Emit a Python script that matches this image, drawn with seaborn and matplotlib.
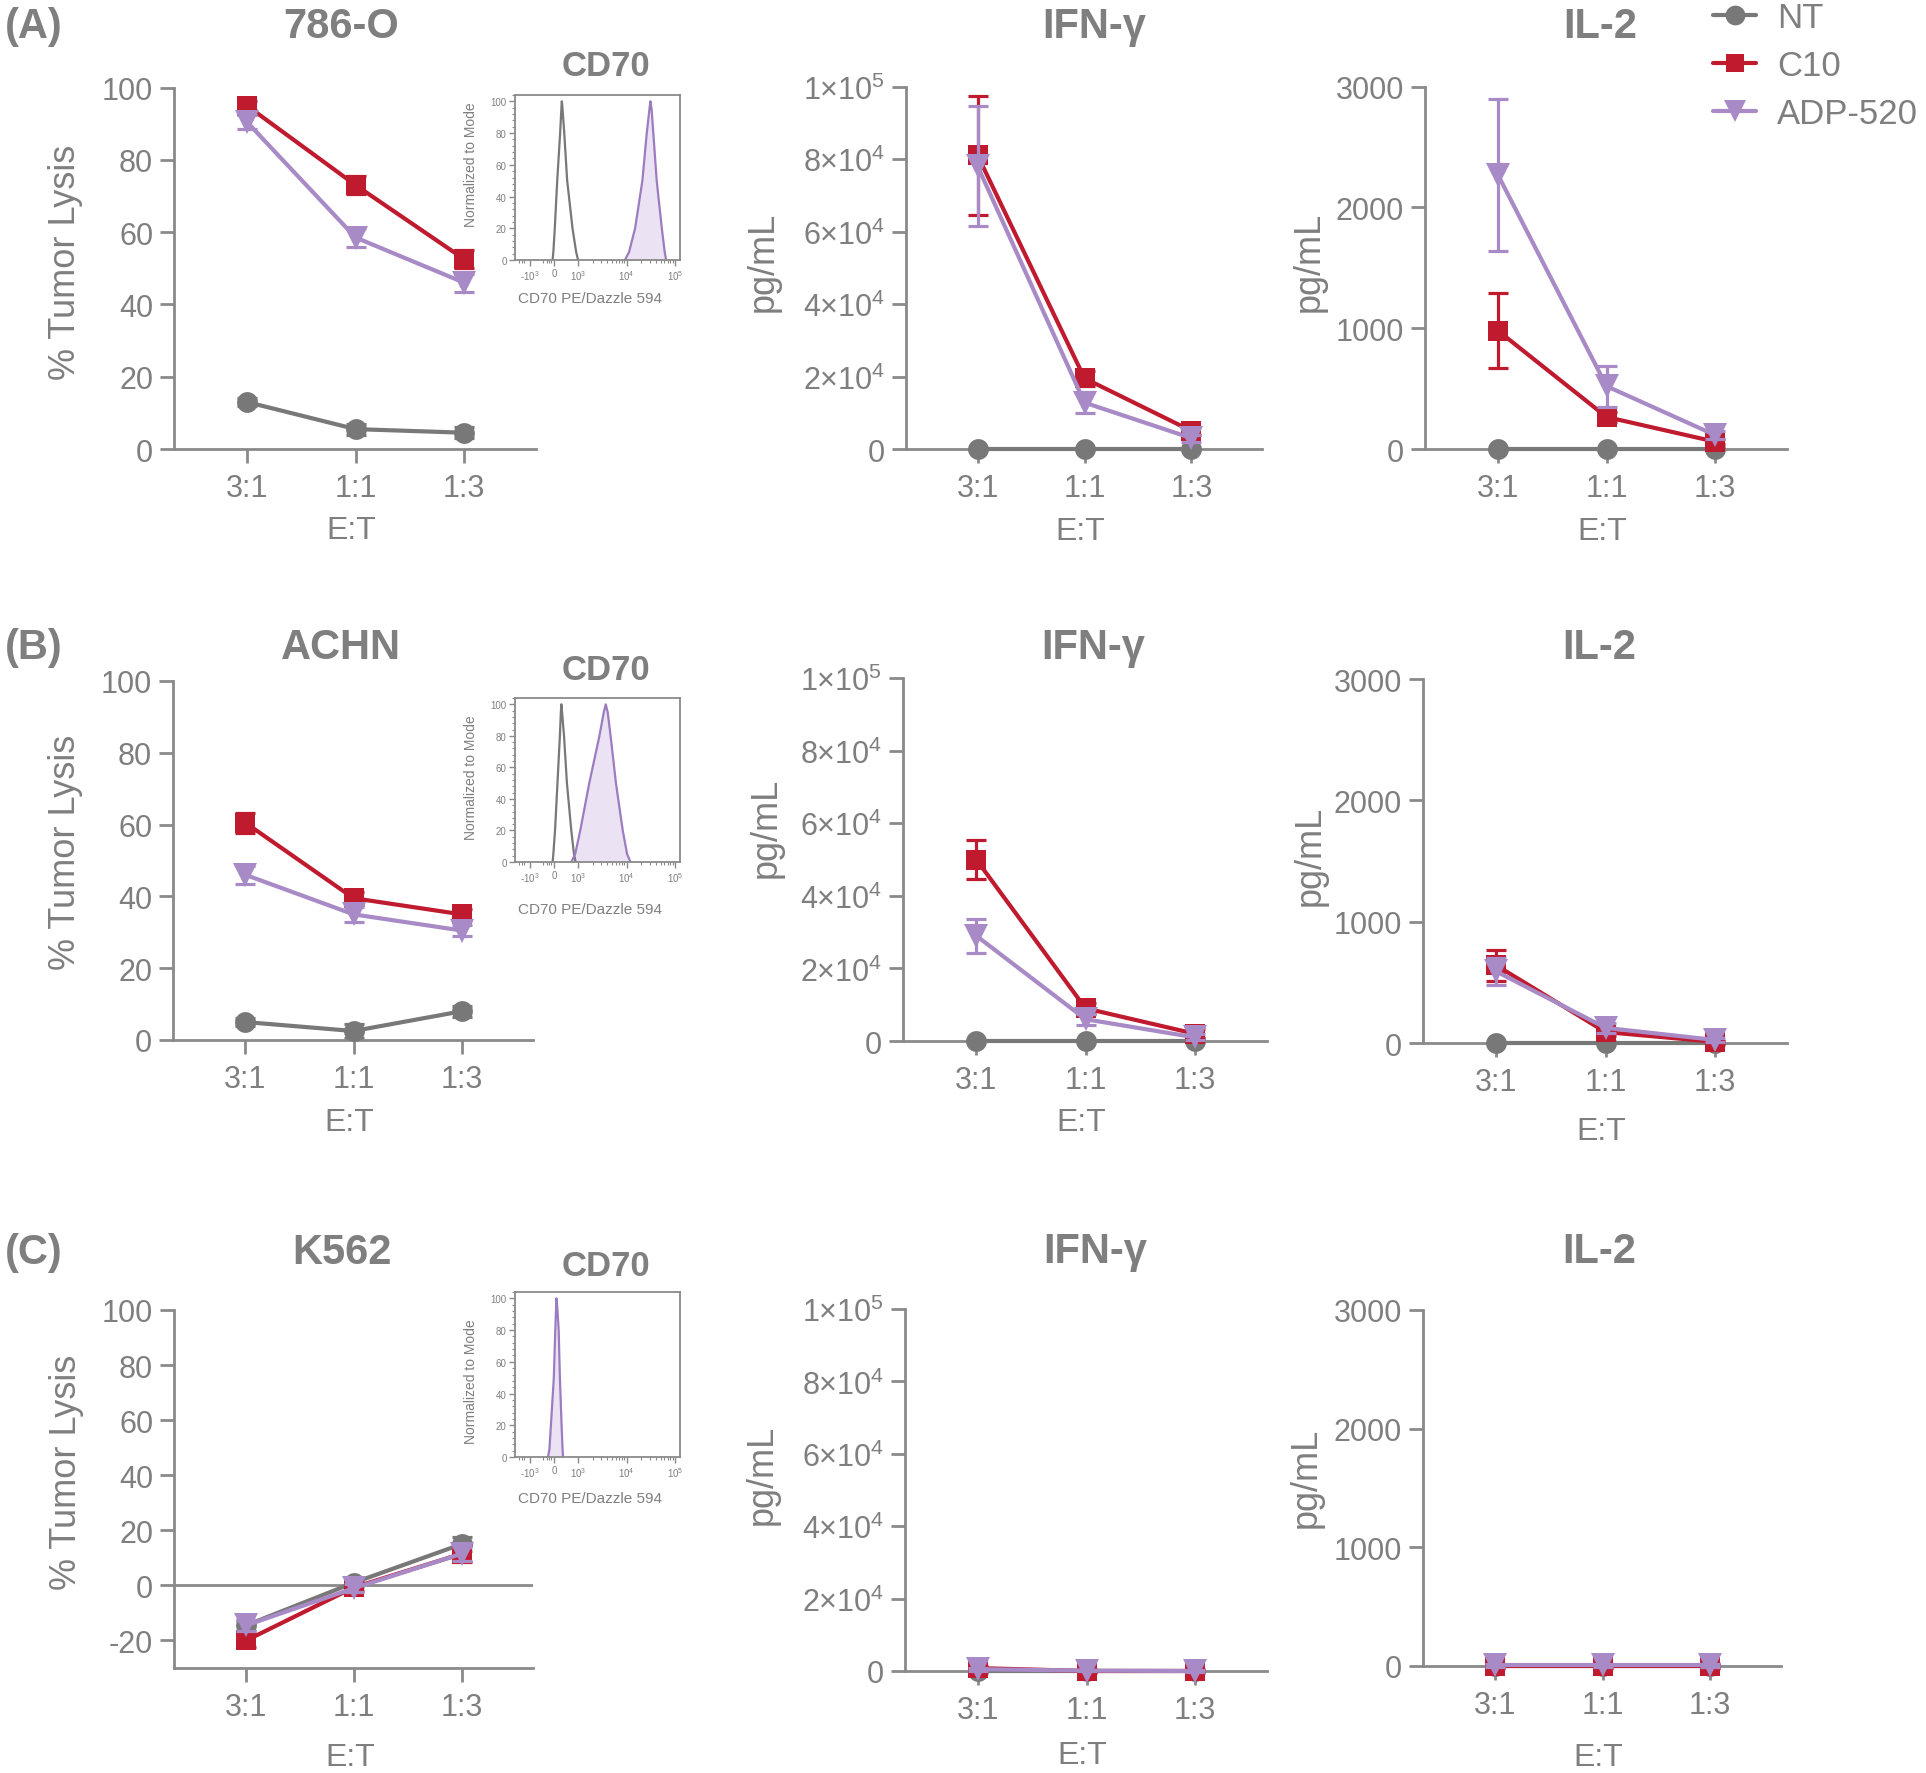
import numpy as np
import pandas as pd
import matplotlib
matplotlib.use("Agg")
import matplotlib.pyplot as plt
import seaborn as sns
from matplotlib.lines import Line2D
from matplotlib.ticker import MultipleLocator

# ======================
# Data
# ======================
E_T = ["3:1", "1:1", "1:3"]
GROUPS = ["NT", "C10", "ADP-520"]

# rows: NT, C10, ADP-520 ; columns: 3:1, 1:1, 1:3
LYSIS_786O = [[13, 5.5, 4.5], [95, 73, 52.5], [90.5, 58.5, 46]]
LYSIS_786O_SD = [[1, 1.5, 1.5], [1.2, 2.5, 2.5], [2, 2.5, 2.5]]
IFNG_786O = [[0, 0, 0], [81000, 19500, 5000], [78000, 12800, 3000]]
IFNG_786O_SD = [[0, 0, 0], [16500, 2000, 1000], [16600, 3000, 1000]]
IL2_786O = [[0, 0, 0], [980, 265, 60], [2270, 520, 115]]
IL2_786O_SD = [[0, 0, 0], [310, 45, 20], [630, 170, 30]]

LYSIS_ACHN = [[5, 2.5, 8], [60.5, 39.5, 35], [46, 35, 30.5]]
LYSIS_ACHN_SD = [[1, 2, 1.5], [2.8, 1.8, 1.5], [2.5, 2, 1.5]]
IFNG_ACHN = [[0, 0, 0], [50000, 9000, 2000], [29000, 6000, 1000]]
IFNG_ACHN_SD = [[0, 0, 0], [5300, 1500, 1200], [4700, 1500, 800]]
IL2_ACHN = [[0, 0, 0], [640, 90, 10], [590, 125, 25]]
IL2_ACHN_SD = [[0, 0, 0], [125, 30, 10], [110, 40, 15]]

LYSIS_K562 = [[-14.5, 1, 15], [-20, -0.7, 11.5], [-14.5, -1, 11.5]]
LYSIS_K562_SD = [[2, 1.5, 2.5], [2.5, 1.5, 3], [2, 1.5, 2.5]]
IFNG_K562 = [[0, 0, 0], [800, 0, 0], [500, 100, 0]]
IFNG_K562_SD = [[0, 0, 0], [700, 300, 300], [400, 200, 200]]
IL2_K562 = [[0, 0, 0], [0, 0, 0], [5, 5, 5]]
IL2_K562_SD = [[0, 0, 0], [20, 20, 20], [15, 15, 15]]

# CD70 flow histograms (x in display decades: 0 -> 0, 1 -> 10^3, 3 -> 10^4, 5 -> 10^5)
HIST_Y = [0, 5, 20, 50, 80, 95, 100, 95, 80, 50, 20, 5, 0]
HIST_786O_CTRL_X = [-0.05, -0.02, 0.04, 0.14, 0.26, 0.31, 0.33, 0.36, 0.43, 0.55, 0.77, 0.92, 1.0]
HIST_786O_CD70_X = [2.93, 3.10, 3.35, 3.65, 3.83, 3.94, 3.98, 4.03, 4.10, 4.24, 4.45, 4.57, 4.63]
HIST_ACHN_CTRL_X = [-0.05, -0.02, 0.05, 0.15, 0.25, 0.29, 0.31, 0.34, 0.42, 0.54, 0.72, 0.83, 0.9]
HIST_ACHN_CD70_X = [0.72, 0.88, 1.09, 1.46, 1.88, 2.06, 2.14, 2.22, 2.34, 2.56, 2.84, 3.02, 3.16]
HIST_K562_CD70_X = [-0.24, -0.18, -0.12, 0.0, 0.06, 0.095, 0.11, 0.14, 0.20, 0.25, 0.32, 0.36, 0.38]
HIST_XTICKS = [-1, 0, 1, 3, 5]
HIST_XTICKLABELS = ["-10$^{3}$", "0", "10$^{3}$", "10$^{4}$", "10$^{5}$"]

# ======================
# Style
# ======================
W, H = 1926, 1774
TEXT = "#7f7f7f"
SPINE = "#8a8a8a"
GREY = "#787878"
RED = "#c01a2f"
PURPLE = "#a88ac7"
PURPLE_LINE = "#9c7cc0"
PURPLE_FILL = "#ebe3f3"

STYLE = {
    "NT": dict(color=GREY, marker="o", ms=15, z=3),
    "C10": dict(color=RED, marker="s", ms=14, z=4),
    "ADP-520": dict(color=PURPLE, marker="v", ms=17, z=5),
}

sns.set_theme(style="ticks")
plt.rcParams["font.family"] = ["Liberation Sans", "DejaVu Sans"]
plt.rcParams["axes.unicode_minus"] = False
plt.rcParams["mathtext.fontset"] = "custom"
plt.rcParams["mathtext.rm"] = "Liberation Sans"
plt.rcParams["mathtext.it"] = "Liberation Sans:italic"
plt.rcParams["mathtext.bf"] = "Liberation Sans:bold"

fig = plt.figure(figsize=(W / 100, H / 100), dpi=100)
fig.patch.set_facecolor("white")


def px_axes(left, right, top, bottom):
    return fig.add_axes([left / W, 1 - bottom / H, (right - left) / W, (bottom - top) / H])


def ftext(x, y, s, **kw):
    kw.setdefault("color", TEXT)
    return fig.text(x / W, 1 - y / H, s, **kw)


def long_df(means, sds):
    rows = []
    for g, m_row, s_row in zip(GROUPS, means, sds):
        for i, (m, s) in enumerate(zip(m_row, s_row)):
            rows.append({"group": g, "ratio": E_T[i], "pos": i, "value": m, "sd": s})
    return pd.DataFrame(rows)


def draw_panel(box, means, sds, kind, ylab_xy, xlab_y):
    ax = px_axes(*box)
    df = long_df(means, sds)
    for g in GROUPS:
        st = STYLE[g]
        sub = df[df["group"] == g]
        ax.errorbar(sub["pos"], sub["value"], yerr=sub["sd"], fmt="none",
                    ecolor=st["color"], elinewidth=2.3, capsize=7, capthick=2.3,
                    zorder=st["z"] - 0.5, clip_on=False)
        sns.lineplot(data=sub, x="pos", y="value", color=st["color"],
                     marker=st["marker"], markersize=st["ms"], markeredgewidth=0,
                     linewidth=3, errorbar=None, legend=False, ax=ax, zorder=st["z"])
    for line in ax.lines:
        line.set_clip_on(False)

    ax.set_xlim(-0.67, 2.66)
    if kind == "lysis":
        ax.set_ylim(0, 100)
        ax.set_yticks(range(0, 101, 20))
        ylabel = "% Tumor Lysis"
    elif kind == "lysis_neg":
        ax.set_ylim(-30, 100)
        ax.set_yticks(range(-20, 101, 20))
        ax.axhline(0, color=SPINE, lw=2, zorder=1)
        ylabel = "% Tumor Lysis"
    elif kind == "ifng":
        ax.set_ylim(0, 100000)
        ax.set_yticks(range(0, 100001, 20000),
                      ["0", "2×10$^{4}$", "4×10$^{4}$", "6×10$^{4}$", "8×10$^{4}$", "1×10$^{5}$"])
        ylabel = "pg/mL"
    else:
        ax.set_ylim(0, 3000)
        ax.set_yticks(range(0, 3001, 1000))
        ylabel = "pg/mL"

    ax.set_xticks([0, 1, 2], E_T)
    for s in ["top", "right"]:
        ax.spines[s].set_visible(False)
    for s in ["left", "bottom"]:
        ax.spines[s].set_color(SPINE)
        ax.spines[s].set_linewidth(2)
    ax.tick_params(axis="both", color=SPINE, labelcolor=TEXT, width=2, length=10,
                   labelsize=22)
    ax.tick_params(axis="y", pad=5)
    ax.tick_params(axis="x", pad=7)
    ax.set_facecolor("none")

    ax.set_xlabel("E:T", fontsize=23, color=TEXT)
    ax.xaxis.set_label_coords(0.49, xlab_y)
    ax.xaxis.label.set_va("center")
    ax.set_ylabel(ylabel, fontsize=26, color=TEXT)
    ax.yaxis.set_label_coords(*ylab_xy)
    ax.yaxis.label.set_va("center")
    return ax


def draw_inset(box, ctrl_x, cd70_x, title_y, norm_y, label_y):
    ax = px_axes(*box)
    if ctrl_x is not None:
        sns.lineplot(x=ctrl_x, y=HIST_Y, color=GREY, linewidth=1.6, sort=False, ax=ax)
    ax.fill_between(cd70_x, HIST_Y, color=PURPLE_FILL, lw=0)
    sns.lineplot(x=cd70_x, y=HIST_Y, color=PURPLE_LINE, linewidth=1.6, sort=False, ax=ax)
    ax.set_xlim(-1.6, 5.2)
    ax.set_ylim(0, 104)
    ax.set_xticks(HIST_XTICKS, HIST_XTICKLABELS)
    minors = [-1.45, -1.33, -1.22, -0.45, -0.3, -0.18, -0.1]
    minors += [1 + 2 * np.log10(k) for k in range(2, 10)]
    minors += [3 + 2 * np.log10(k) for k in range(2, 10)]
    ax.set_xticks(minors, minor=True)
    ax.set_yticks(range(0, 101, 20))
    ax.yaxis.set_minor_locator(MultipleLocator(4))
    for s in ax.spines.values():
        s.set_color(SPINE)
        s.set_linewidth(1.3)
    ax.tick_params(axis="both", which="major", color=SPINE, labelcolor=TEXT, width=1,
                   length=4, labelsize=7, pad=2)
    ax.tick_params(axis="both", which="minor", color=SPINE, width=0.8, length=2.5)
    ax.set_xlabel("")
    ax.set_ylabel("")
    l, r, t, b = box
    ftext((l + r) / 2 + 8, title_y, "CD70", fontsize=25, fontweight="bold",
          ha="center", va="baseline")
    ftext(471, norm_y, "Normalized to Mode", fontsize=10, rotation=90,
          ha="center", va="center")
    ftext((l + r) / 2 - 8, label_y, "CD70 PE/Dazzle 594", fontsize=11,
          ha="center", va="baseline")
    return ax


# ======================
# Row A: 786-O
# ======================
draw_panel((174, 536, 88.5, 450), LYSIS_786O, LYSIS_786O_SD, "lysis", (-0.30, 0.52), -0.224)
draw_panel((906, 1262, 87.5, 450), IFNG_786O, IFNG_786O_SD, "ifng", (-0.40, 0.52), -0.226)
draw_panel((1425, 1787, 87.5, 450), IL2_786O, IL2_786O_SD, "il2", (-0.32, 0.52), -0.226)
draw_inset((515, 680, 96, 261), HIST_786O_CTRL_X, HIST_786O_CD70_X, 76, 165, 303)

# ======================
# Row B: ACHN
# ======================
draw_panel((173, 533, 682, 1041), LYSIS_ACHN, LYSIS_ACHN_SD, "lysis", (-0.30, 0.525), -0.228)
draw_panel((903, 1267, 679, 1042), IFNG_ACHN, IFNG_ACHN_SD, "ifng", (-0.375, 0.59), -0.223)
draw_panel((1423, 1787, 680, 1044), IL2_ACHN, IL2_ACHN_SD, "il2", (-0.31, 0.516), -0.242)
draw_inset((515, 680, 699, 863), HIST_ACHN_CTRL_X, HIST_ACHN_CD70_X, 680, 778, 914)

# ======================
# Row C: K562
# ======================
draw_panel((174, 533, 1311, 1669), LYSIS_K562, LYSIS_K562_SD, "lysis_neg", (-0.30, 0.55), -0.249)
draw_panel((905, 1267, 1310, 1672), IFNG_K562, IFNG_K562_SD, "ifng", (-0.394, 0.544), -0.232)
draw_panel((1423, 1781, 1311, 1667), IL2_K562, IL2_K562_SD, "il2", (-0.327, 0.532), -0.256)
draw_inset((515, 680, 1293, 1458), None, HIST_K562_CD70_X, 1276, 1382, 1503)

# ======================
# Titles and panel letters
# ======================
TITLE_KW = dict(fontsize=30, fontweight="bold", ha="center", va="baseline")
for letter, y in [("(A)", 38), ("(B)", 659), ("(C)", 1264)]:
    ftext(5, y, letter, fontsize=30, fontweight="bold", ha="left", va="baseline")
ftext(341, 38, "786-O", **TITLE_KW)
ftext(1094, 38, "IFN-γ", **TITLE_KW)
ftext(1600, 38, "IL-2", **TITLE_KW)
ftext(341, 659, "ACHN", **TITLE_KW)
ftext(1093, 659, "IFN-γ", **TITLE_KW)
ftext(1599, 659, "IL-2", **TITLE_KW)
ftext(342, 1264, "K562", **TITLE_KW)
ftext(1095, 1263, "IFN-γ", **TITLE_KW)
ftext(1599, 1263, "IL-2", **TITLE_KW)

# ======================
# Legend
# ======================
handles = [Line2D([0], [0], color=STYLE[g]["color"], marker=STYLE[g]["marker"],
                  markersize=STYLE[g]["ms"] * 0.95, markeredgewidth=0, lw=3) for g in GROUPS]
fig.legend(handles, GROUPS, loc="upper left", bbox_to_anchor=(1713 / W, 1 - 2 / H),
           frameon=False, fontsize=25, labelcolor=TEXT, handlelength=1.25,
           handletextpad=0.6, labelspacing=0.43, borderpad=0, borderaxespad=0)

fig.savefig("out.png", dpi=100)
